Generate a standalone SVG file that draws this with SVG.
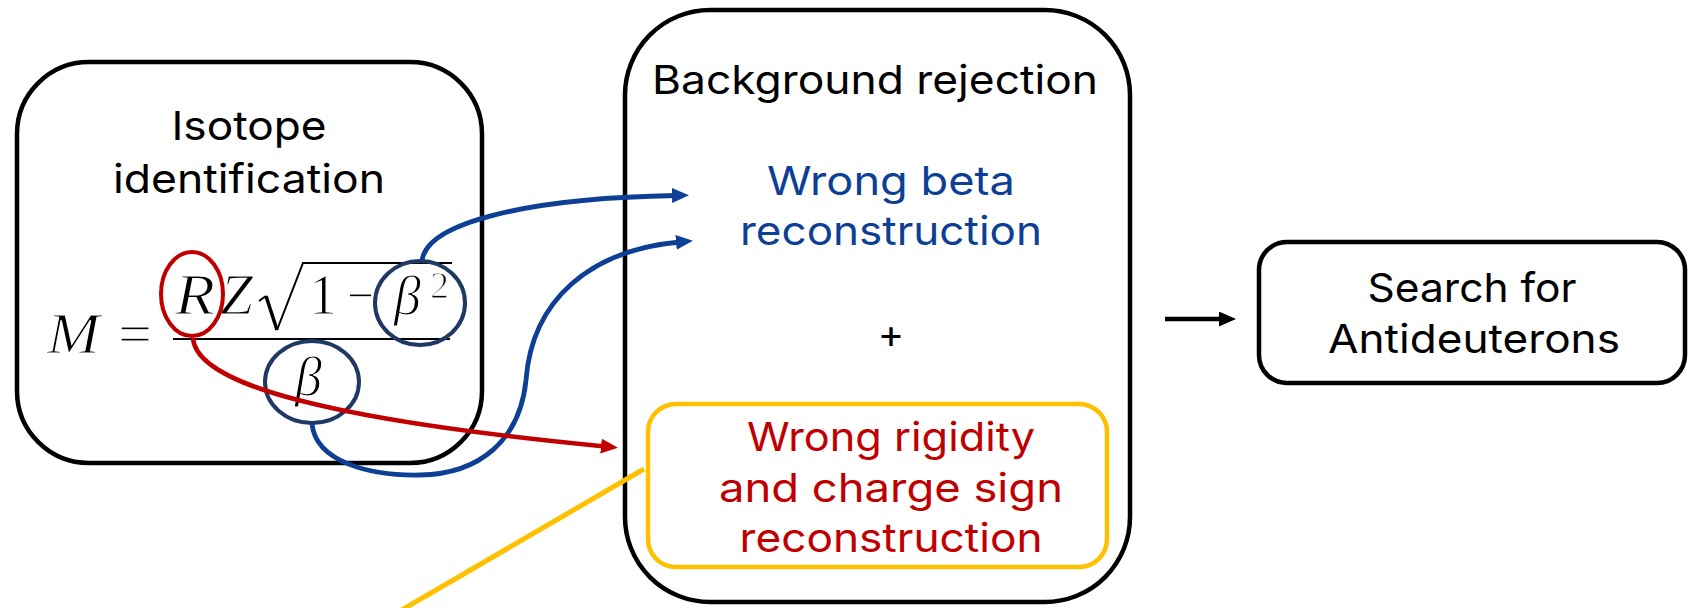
<svg xmlns="http://www.w3.org/2000/svg" width="1692" height="608" viewBox="0 0 1692 608">
  <style>
    .box { fill: none; stroke: #000; stroke-width: 4.5; }
    .label { font-family: Inter, "Noto Sans", sans-serif; font-weight: 400; font-size: 40px; text-anchor: middle; }
    .black { fill: #000; }
    .blue { fill: #0d3f94; }
    .red { fill: #c00000; }
    .math { font-family: "Liberation Serif", "Times New Roman", serif; fill: #000; stroke: #fff; stroke-width: 1.2px; }
    .it { font-style: italic; }
    .hl-red { fill: none; stroke: #c00000; stroke-width: 4; }
    .hl-navy { fill: none; stroke: #1f3864; stroke-width: 4; }
    .conn-blue { fill: none; stroke: #0d3f94; stroke-width: 4.8; marker-end: url(#arrow-blue); }
    .conn-red { fill: none; stroke: #c00000; stroke-width: 4.5; marker-end: url(#arrow-red); }
    .conn-black { fill: none; stroke: #000; stroke-width: 4.5; marker-end: url(#arrow-black); }
    .conn-yellow { fill: none; stroke: #ffc000; stroke-width: 5; }
  </style>
  <defs>
    <marker id="arrow-blue" markerUnits="userSpaceOnUse" markerWidth="17" markerHeight="15" refX="4" refY="7.5" orient="auto">
      <path d="M0,0 L17,7.5 L0,15 z" fill="#0d3f94"/>
    </marker>
    <marker id="arrow-red" markerUnits="userSpaceOnUse" markerWidth="17" markerHeight="15" refX="4" refY="7.5" orient="auto">
      <path d="M0,0 L17,7.5 L0,15 z" fill="#c00000"/>
    </marker>
    <marker id="arrow-black" markerUnits="userSpaceOnUse" markerWidth="17" markerHeight="15" refX="4" refY="7.5" orient="auto">
      <path d="M0,0 L17,7.5 L0,15 z" fill="#000"/>
    </marker>
  </defs>

  <rect width="1692" height="608" fill="#fff"/>

  <!-- Isotope identification with the mass formula -->
  <g id="node-isotope">
    <rect class="box" x="17" y="62" width="465" height="401" rx="72"/>
    <text class="label black" x="249" y="140" textLength="155" lengthAdjust="spacingAndGlyphs">Isotope</text>
    <text class="label black" x="249" y="193" textLength="272" lengthAdjust="spacingAndGlyphs">identification</text>

    <!-- M = R Z sqrt(1 - beta^2) / beta -->
    <g id="formula">
      <text class="math it" x="47" y="353" font-size="56" textLength="53" lengthAdjust="spacingAndGlyphs">M</text>
      <text class="math" x="118" y="353" font-size="56" textLength="34" lengthAdjust="spacingAndGlyphs">=</text>
      <text class="math it" x="175" y="314" font-size="56" textLength="40" lengthAdjust="spacingAndGlyphs">R</text>
      <text class="math it" x="220" y="314" font-size="56" textLength="33" lengthAdjust="spacingAndGlyphs">Z</text>
      <path d="M259,301 L266,296" fill="none" stroke="#000" stroke-width="2"/>
      <path d="M266,296 L277,330" fill="none" stroke="#000" stroke-width="3.5"/>
      <path d="M277,330 L303,263 L452,263" fill="none" stroke="#000" stroke-width="2"/>
      <text class="math" x="309" y="314" font-size="56">1</text>
      <text class="math" x="347" y="314" font-size="56" textLength="27" lengthAdjust="spacingAndGlyphs">−</text>
      <text class="math it" x="394" y="314" font-size="54">β</text>
      <text class="math" x="430" y="298" font-size="38">2</text>
      <line x1="173" y1="339" x2="450" y2="339" stroke="#000" stroke-width="2"/>
      <text class="math it" x="295" y="395" font-size="54">β</text>
    </g>

    <ellipse class="hl-red" cx="192" cy="294" rx="31" ry="42"/>
    <ellipse class="hl-navy" cx="420" cy="303" rx="45" ry="42"/>
    <ellipse class="hl-navy" cx="312" cy="382" rx="47" ry="41"/>
  </g>

  <!-- Background rejection -->
  <g id="node-background">
    <rect class="box" x="625" y="10" width="505" height="592" rx="85"/>
    <text class="label black" x="875" y="94" textLength="446" lengthAdjust="spacingAndGlyphs">Background rejection</text>
    <text class="label blue" x="891" y="195" textLength="248" lengthAdjust="spacingAndGlyphs">Wrong beta</text>
    <text class="label blue" x="891" y="245" textLength="302" lengthAdjust="spacingAndGlyphs">reconstruction</text>
    <text class="label black" x="891" y="348" font-size="36" font-weight="300">+</text>
  </g>

  <!-- Rigidity / charge sign sub-box -->
  <g id="node-rigidity">
    <rect x="648" y="404" width="459" height="163" rx="28" fill="none" stroke="#ffc000" stroke-width="4.5"/>
    <text class="label red" x="891" y="451" textLength="288" lengthAdjust="spacingAndGlyphs">Wrong rigidity</text>
    <text class="label red" x="891" y="502" textLength="344" lengthAdjust="spacingAndGlyphs">and charge sign</text>
    <text class="label red" x="891" y="552" textLength="303" lengthAdjust="spacingAndGlyphs">reconstruction</text>
  </g>

  <!-- Search for Antideuterons -->
  <g id="node-search">
    <rect class="box" x="1259" y="242" width="426" height="141" rx="28"/>
    <text class="label black" x="1472" y="302" textLength="209" lengthAdjust="spacingAndGlyphs">Search for</text>
    <text class="label black" x="1474" y="353" textLength="292" lengthAdjust="spacingAndGlyphs">Antideuterons</text>
  </g>

  <!-- Connectors -->
  <g id="connectors">
    <path class="conn-blue" d="M422,261 C426,222 530,198 676,195.5"/>
    <path class="conn-blue" d="M312,424 C316,462 370,476 420,475 C480,474 520,440 526,380 C532,300 590,250 680,242"/>
    <path class="conn-red" d="M193,338 C196,385 330,420 605,446.5"/>
    <path class="conn-black" d="M1165,319 L1223,319"/>
    <path class="conn-yellow" d="M400,611 L644,469"/>
  </g>
</svg>
